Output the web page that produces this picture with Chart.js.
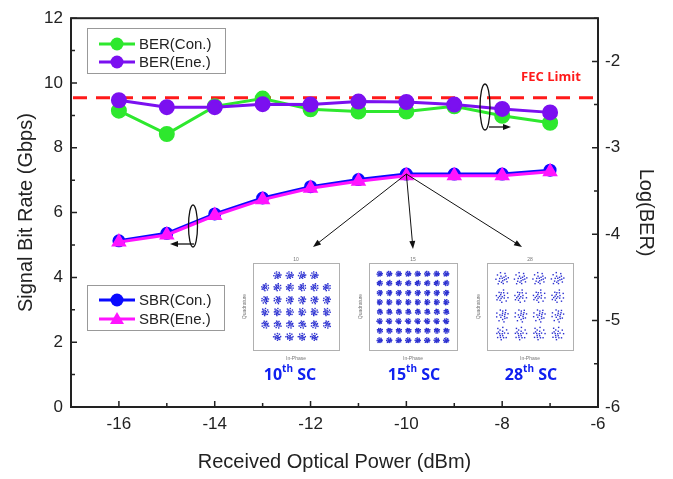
<!DOCTYPE html>
<html lang="en">
  <head>
    <meta charset="UTF-8">
    <script src="https://cdn.jsdelivr.net/npm/chart.js@4.4.1/dist/chart.umd.min.js"></script>
    <style>
      body { margin: 0; background: #FFFFFF; }
      #wrap { width: 673px; height: 479px; }
    </style>
  </head>
  <body>
    <div id="wrap"><canvas id="berChart" width="673" height="479"></canvas></div>
    <script>
      // Received optical power (dBm)
      const powers = [-16, -15, -14, -13, -12, -11, -10, -9, -8, -7];
      // Signal bit rate (Gbps), left axis
      const sbrCon = [5.13, 5.36, 5.96, 6.45, 6.8, 7.02, 7.19, 7.19, 7.19, 7.31];
      const sbrEne = [5.09, 5.31, 5.91, 6.4, 6.75, 6.97, 7.14, 7.14, 7.14, 7.26];
      // log10(BER), right axis
      const berCon = [-2.57, -2.84, -2.52, -2.43, -2.555, -2.58, -2.58, -2.52, -2.63, -2.71];
      const berEne = [-2.45, -2.53, -2.53, -2.495, -2.5, -2.465, -2.47, -2.5, -2.55, -2.59];
      const fecLimit = -2.42;

      const xTicks = [-16, -14, -12, -10, -8, -6];
      const yTicks = [0, 2, 4, 6, 8, 10, 12];
      const y2Ticks = [-6, -5, -4, -3, -2];

      const axisFont = { family: 'Arial, "Liberation Sans", sans-serif', size: 17 };
      const titleFont = { family: 'Arial, "Liberation Sans", sans-serif', size: 20 };

      function pts(ys) {
        return powers.map((p, i) => ({ x: p, y: ys[i] }));
      }

      // inset constellation diagrams (decoration only)
      const insets = [
        { x: 253, y: 263, w: 86, h: 87, n: 6, cross: true, spread: 2.4, label: '10', sc: 290 },
        { x: 369, y: 263, w: 88, h: 87, n: 8, cross: false, spread: 1.7, label: '15', sc: 414 },
        { x: 487, y: 263, w: 86, h: 87, n: 4, cross: false, spread: 4.2, label: '28', sc: 531 }
      ];
      const blob = [[0, 0], [1.4, -0.9], [-1.2, 1.2], [1.9, 1.4], [-1.9, -1.3], [0.4, 2.1], [-0.7, -2.2],
        [2.4, -0.2], [-2.5, 0.4], [0.9, 0.6], [-0.5, -0.8], [1.1, -1.9], [-1.6, 2.2], [0.2, 1.0],
        [-1.0, 0.1], [0.7, -0.4], [-0.3, 1.6], [1.6, 0.3]];

      function drawArrow(ctx, x1, y1, x2, y2) {
        const a = Math.atan2(y2 - y1, x2 - x1);
        ctx.beginPath();
        ctx.moveTo(x1, y1);
        ctx.lineTo(x2 - 6 * Math.cos(a), y2 - 6 * Math.sin(a));
        ctx.stroke();
        ctx.beginPath();
        ctx.moveTo(x2, y2);
        ctx.lineTo(x2 - 8 * Math.cos(a) + 3 * Math.sin(a), y2 - 8 * Math.sin(a) - 3 * Math.cos(a));
        ctx.lineTo(x2 - 8 * Math.cos(a) - 3 * Math.sin(a), y2 - 8 * Math.sin(a) + 3 * Math.cos(a));
        ctx.closePath();
        ctx.fill();
      }

      function legendRow(ctx, y, color, style, r, text) {
        ctx.strokeStyle = color;
        ctx.fillStyle = color;
        ctx.lineWidth = 3;
        ctx.beginPath();
        ctx.moveTo(99, y);
        ctx.lineTo(135, y);
        ctx.stroke();
        if (style === 'triangle') {
          ctx.beginPath();
          ctx.moveTo(117, y - r);
          ctx.lineTo(117 + r, y + r * 0.7);
          ctx.lineTo(117 - r, y + r * 0.7);
          ctx.closePath();
          ctx.fill();
        } else {
          ctx.beginPath();
          ctx.arc(117, y, r, 0, Math.PI * 2);
          ctx.fill();
        }
        ctx.fillStyle = '#222';
        ctx.font = '15px Arial, "Liberation Sans", sans-serif';
        ctx.textAlign = 'left';
        ctx.textBaseline = 'middle';
        ctx.fillText(text, 139, y + 1);
      }

      const decor = {
        id: 'decor',
        beforeDatasetsDraw(chart) {
          const { ctx, chartArea: a, scales } = chart;
          const fy = scales.y2.getPixelForValue(fecLimit);
          ctx.save();
          ctx.strokeStyle = '#ff1a1a';
          ctx.lineWidth = 3;
          ctx.setLineDash([14, 9]);
          ctx.beginPath();
          ctx.moveTo(a.left + 2, fy);
          ctx.lineTo(a.right - 2, fy);
          ctx.stroke();
          ctx.restore();
        },
        afterDraw(chart) {
          const { ctx, chartArea: a, scales } = chart;
          ctx.save();

          // frame
          ctx.strokeStyle = '#222';
          ctx.lineWidth = 2;
          ctx.strokeRect(a.left, a.top, a.right - a.left, a.bottom - a.top);

          // inward ticks
          ctx.lineWidth = 1.5;
          ctx.beginPath();
          for (let v = 0; v <= 12; v++) {
            const py = scales.y.getPixelForValue(v);
            ctx.moveTo(a.left, py);
            ctx.lineTo(a.left + (v % 2 === 0 ? 6 : 4), py);
          }
          for (let v = -6; v <= -1.5; v += 0.5) {
            const py = scales.y2.getPixelForValue(v);
            ctx.moveTo(a.right, py);
            ctx.lineTo(a.right - (v % 1 === 0 ? 6 : 4), py);
          }
          for (let v = -17; v <= -6; v++) {
            const px = scales.x.getPixelForValue(v);
            ctx.moveTo(px, a.bottom);
            ctx.lineTo(px, a.bottom - (v % 2 === 0 ? 6 : 4));
          }
          ctx.stroke();

          // constellation insets
          insets.forEach(b => {
            ctx.fillStyle = '#ffffff';
            ctx.fillRect(b.x, b.y, b.w, b.h);
            ctx.strokeStyle = '#b0b0b0';
            ctx.lineWidth = 1;
            ctx.strokeRect(b.x + 0.5, b.y + 0.5, b.w, b.h);
            ctx.fillStyle = '#777';
            ctx.font = '5px Arial, sans-serif';
            ctx.textAlign = 'center';
            ctx.textBaseline = 'bottom';
            ctx.fillText(b.label, b.x + b.w / 2, b.y - 1);
            ctx.textBaseline = 'top';
            ctx.fillText('In-Phase', b.x + b.w / 2, b.y + b.h + 6);
            ctx.save();
            ctx.translate(b.x - 8, b.y + b.h / 2);
            ctx.rotate(-Math.PI / 2);
            ctx.textBaseline = 'middle';
            ctx.fillText('Quadrature', 0, 0);
            ctx.restore();
            const cell = (b.w - 12) / b.n;
            ctx.fillStyle = '#2a2fd0';
            for (let i = 0; i < b.n; i++) {
              for (let j = 0; j < b.n; j++) {
                const corner = (i === 0 || i === b.n - 1) && (j === 0 || j === b.n - 1);
                if (b.cross && corner) continue;
                const cx = b.x + 6 + cell * (i + 0.5);
                const cy = b.y + 6 + cell * (j + 0.5);
                const ang = (i * 7 + j * 3) * 0.9;
                blob.forEach(([ox, oy]) => {
                  const rx = ox * Math.cos(ang) - oy * Math.sin(ang);
                  const ry = ox * Math.sin(ang) + oy * Math.cos(ang);
                  ctx.fillRect(cx + rx * b.spread * 0.6 - 0.7, cy + ry * b.spread * 0.6 - 0.7, 1.4, 1.4);
                });
              }
            }
            // SC labels
            ctx.fillStyle = '#1020f0';
            ctx.textBaseline = 'alphabetic';
            ctx.textAlign = 'left';
            const big = 'bold 16px "Open Sans", Arial, sans-serif';
            const small = 'bold 10px "Open Sans", Arial, sans-serif';
            ctx.font = big;
            const w1 = ctx.measureText(b.label).width;
            const w3 = ctx.measureText(' SC').width;
            ctx.font = small;
            const w2 = ctx.measureText('th').width;
            let sx = b.sc - (w1 + w2 + w3) / 2;
            ctx.font = big;
            ctx.fillText(b.label, sx, 380);
            ctx.font = small;
            ctx.fillText('th', sx + w1, 372);
            ctx.font = big;
            ctx.fillText(' SC', sx + w1 + w2, 380);
          });

          // arrows from the -10 dBm point
          const ox = scales.x.getPixelForValue(-10);
          const oy = scales.y.getPixelForValue(sbrCon[6]);
          ctx.strokeStyle = '#111';
          ctx.fillStyle = '#111';
          ctx.lineWidth = 1;
          drawArrow(ctx, ox, oy, 313, 247);
          drawArrow(ctx, ox, oy, 413, 249);
          drawArrow(ctx, ox, oy, 522, 247);

          // axis indicator ellipses
          ctx.lineWidth = 1.3;
          ctx.beginPath();
          ctx.ellipse(485, 107, 5, 23, 0, 0, Math.PI * 2);
          ctx.stroke();
          drawArrow(ctx, 489, 127, 511, 127);
          ctx.beginPath();
          ctx.ellipse(193, 226, 4.5, 21, 0, 0, Math.PI * 2);
          ctx.stroke();
          drawArrow(ctx, 194, 244, 170, 244);

          // FEC label
          ctx.fillStyle = '#ff1a1a';
          ctx.font = 'bold 13px "Open Sans", Arial, sans-serif';
          ctx.textAlign = 'center';
          ctx.textBaseline = 'middle';
          ctx.fillText('FEC Limit', 551, 77);

          // legends
          ctx.fillStyle = '#ffffff';
          ctx.strokeStyle = '#999';
          ctx.lineWidth = 1;
          ctx.fillRect(87, 28, 138, 45);
          ctx.strokeRect(87.5, 28.5, 138, 45);
          legendRow(ctx, 44, '#2ee82e', 'circle', 6.5, 'BER(Con.)');
          legendRow(ctx, 62, '#7b10f0', 'circle', 6.5, 'BER(Ene.)');
          ctx.fillStyle = '#ffffff';
          ctx.strokeStyle = '#999';
          ctx.lineWidth = 1;
          ctx.fillRect(87, 285, 137, 45);
          ctx.strokeRect(87.5, 285.5, 137, 45);
          legendRow(ctx, 300, '#0a0aff', 'circle', 6.5, 'SBR(Con.)');
          legendRow(ctx, 319, '#ff14ff', 'triangle', 7, 'SBR(Ene.)');

          ctx.restore();
        }
      };

      new Chart(document.getElementById('berChart'), {
        type: 'line',
        data: {
          datasets: [
            {
              label: 'BER(Ene.)', data: pts(berEne), yAxisID: 'y2', order: 1,
              borderColor: '#7b10f0', backgroundColor: '#7b10f0', borderWidth: 3,
              pointRadius: 6.5, pointStyle: 'circle'
            },
            {
              label: 'BER(Con.)', data: pts(berCon), yAxisID: 'y2', order: 2,
              borderColor: '#2ee82e', backgroundColor: '#2ee82e', borderWidth: 3,
              pointRadius: 6.5, pointStyle: 'circle'
            },
            {
              label: 'SBR(Ene.)', data: pts(sbrEne), yAxisID: 'y', order: 3,
              borderColor: '#ff14ff', backgroundColor: '#ff14ff', borderWidth: 3,
              pointRadius: 6, pointStyle: 'triangle'
            },
            {
              label: 'SBR(Con.)', data: pts(sbrCon), yAxisID: 'y', order: 4,
              borderColor: '#0a0aff', backgroundColor: '#0a0aff', borderWidth: 3,
              pointRadius: 5, pointStyle: 'circle'
            }
          ]
        },
        options: {
          responsive: false,
          animation: false,
          layout: { padding: { top: 12, left: 0, right: 0, bottom: 0 } },
          plugins: { legend: { display: false }, tooltip: { enabled: false } },
          elements: { line: { tension: 0 }, point: { borderWidth: 0 } },
          scales: {
            x: {
              type: 'linear', position: 'bottom', min: -17, max: -6,
              afterBuildTicks: s => { s.ticks = xTicks.map(v => ({ value: v })); },
              afterFit: s => { s.height = 72; },
              grid: { display: false, drawTicks: false },
              border: { display: false },
              ticks: { font: axisFont, color: '#222', padding: 7 },
              title: { display: true, text: 'Received Optical Power (dBm)', font: titleFont, color: '#222', padding: { bottom: 5 } }
            },
            y: {
              type: 'linear', position: 'left', min: 0, max: 12,
              afterBuildTicks: s => { s.ticks = yTicks.map(v => ({ value: v })); },
              afterFit: s => { s.width = 71; },
              grid: { display: false, drawTicks: false },
              border: { display: false },
              ticks: { font: axisFont, color: '#222', padding: 8 },
              title: { display: true, text: 'Signal Bit Rate (Gbps)', font: titleFont, color: '#222', padding: { top: 14 } }
            },
            y2: {
              type: 'linear', position: 'right', min: -6, max: -1.5,
              afterBuildTicks: s => { s.ticks = y2Ticks.map(v => ({ value: v })); },
              afterFit: s => { s.width = 75; },
              grid: { display: false, drawTicks: false },
              border: { display: false },
              ticks: { font: axisFont, color: '#222', padding: 7 },
              title: { display: true, text: 'Log(BER)', font: titleFont, color: '#222', padding: { top: 15 } }
            }
          }
        },
        plugins: [decor]
      });
    </script>
  </body>
</html>
